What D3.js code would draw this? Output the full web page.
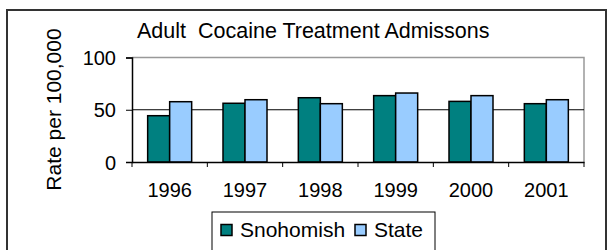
<!DOCTYPE html>
<html>
<head>
<meta charset="utf-8">
<script src="https://cdn.jsdelivr.net/npm/d3@7"></script>
<style>
  html, body { margin: 0; padding: 0; background: #fff; }
  text { font-family: "Liberation Sans", Arial, sans-serif; fill: #000; }
</style>
</head>
<body>
<div id="chart"></div>
<script>
// dữ liệu
const years = ["1996", "1997", "1998", "1999", "2000", "2001"];
const snohomish = [44.3, 56.2, 61.5, 63.5, 58.0, 55.8];
const state = [57.7, 59.6, 55.8, 66.0, 63.5, 59.6];
const seriesNames = ["Snohomish", "State"];
const yTicks = [0, 50, 100];

const W = 611, H = 250;
const colors = d3.scaleOrdinal().domain(seriesNames).range(["#008080", "#99ccff"]);

const svg = d3.select("#chart").append("svg")
  .attr("width", W).attr("height", H);

// khung ngoài
svg.append("rect")
  .attr("x", 7).attr("y", 10)
  .attr("width", 599).attr("height", 260)
  .attr("fill", "none").attr("stroke", "#333").attr("stroke-width", 2);

const plot = { left: 132, right: 584, top: 57.5, bottom: 162 };

const x = d3.scaleBand().domain(years).range([plot.left, plot.right]);
const xInner = d3.scaleBand().domain(seriesNames).range([0, 44]);
const y = d3.scaleLinear().domain([0, 100]).range([plot.bottom, plot.top]);

// viền vùng vẽ (trên, phải màu xám)
svg.append("path")
  .attr("d", `M${plot.left},${plot.top}H${plot.right}V${plot.bottom}`)
  .attr("fill", "none").attr("stroke", "#999").attr("stroke-width", 1.5);

// đường lưới
svg.selectAll(".grid")
  .data(yTicks.filter(d => d > 0 && d < 100))
  .enter().append("line")
  .attr("x1", plot.left).attr("x2", plot.right)
  .attr("y1", d => y(d)).attr("y2", d => y(d))
  .attr("stroke", "#000").attr("stroke-width", 1);

// các cột
const rows = years.map((yr, i) => ({ year: yr, values: [
  { key: "Snohomish", value: snohomish[i] },
  { key: "State", value: state[i] }
]}));

const groups = svg.selectAll(".grp").data(rows).enter().append("g")
  .attr("transform", d => `translate(${x(d.year) + (x.bandwidth() - 44) / 2},0)`);

groups.selectAll("rect").data(d => d.values).enter().append("rect")
  .attr("x", d => xInner(d.key))
  .attr("y", d => y(d.value))
  .attr("width", xInner.bandwidth())
  .attr("height", d => y(0) - y(d.value))
  .attr("fill", d => colors(d.key))
  .attr("stroke", "#000").attr("stroke-width", 1.5);

// trục y
const yAxis = svg.append("g")
  .attr("transform", `translate(${plot.left},0)`)
  .call(d3.axisLeft(y).tickValues(yTicks).tickSize(6).tickPadding(10));
yAxis.select(".domain").attr("stroke", "#000").attr("stroke-width", 1.5);
yAxis.selectAll(".tick line").attr("stroke", "#000");
yAxis.selectAll(".tick text")
  .style("font-family", '"Liberation Sans", Arial, sans-serif')
  .style("font-size", "20px").attr("dy", "0.36em");

// trục x
const xAxis = svg.append("g")
  .attr("transform", `translate(0,${plot.bottom})`)
  .call(d3.axisBottom(x).tickSize(0).tickPadding(21));
xAxis.select(".domain").attr("stroke", "#000").attr("stroke-width", 1.5);
xAxis.selectAll(".tick text")
  .style("font-family", '"Liberation Sans", Arial, sans-serif')
  .style("font-size", "20px");

// vạch chia giữa các nhóm
svg.selectAll(".xtick")
  .data(years.concat(["end"]))
  .enter().append("line")
  .attr("x1", (d, i) => plot.left + i * x.step())
  .attr("x2", (d, i) => plot.left + i * x.step())
  .attr("y1", plot.bottom).attr("y2", plot.bottom + 5)
  .attr("stroke", "#000").attr("stroke-width", 1);

// tiêu đề
svg.append("text")
  .attr("x", 137).attr("y", 38)
  .style("font-size", "21.5px")
  .attr("xml:space", "preserve")
  .text("Adult  Cocaine Treatment Admissons");

// nhãn trục y
svg.append("text")
  .attr("transform", `translate(61,109.5) rotate(-90)`)
  .attr("text-anchor", "middle")
  .style("font-size", "21px")
  .text("Rate per 100,000");

// chú thích
const legend = svg.append("g");
legend.append("rect")
  .attr("x", 212).attr("y", 212)
  .attr("width", 223).attr("height", 60)
  .attr("fill", "#fff").attr("stroke", "#000").attr("stroke-width", 1);

const legendX = [221, 355];
const item = legend.selectAll(".item").data(seriesNames).enter().append("g")
  .attr("transform", (d, i) => `translate(${legendX[i]},224.5)`);
item.append("rect")
  .attr("width", 11).attr("height", 11)
  .attr("fill", d => colors(d))
  .attr("stroke", "#000").attr("stroke-width", 1.5);
item.append("text")
  .attr("x", 19).attr("y", 12)
  .style("font-size", "21px")
  .text(d => d);
</script>
</body>
</html>
